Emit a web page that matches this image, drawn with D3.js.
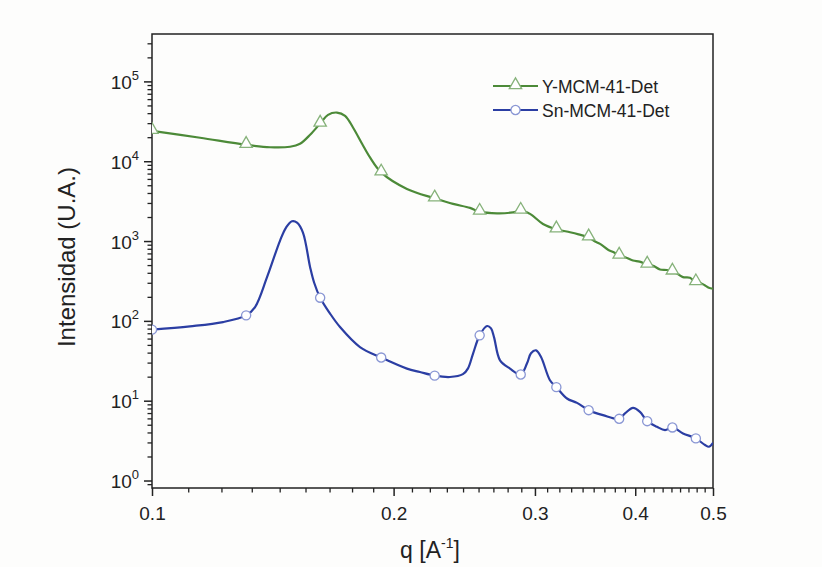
<!DOCTYPE html>
<html>
<head>
<meta charset="utf-8">
<script src="https://cdn.jsdelivr.net/npm/d3@7"></script>
<style>
  html, body { margin: 0; padding: 0; background: #fdfdfc; }
  svg { display: block; }
  text { font-family: "Liberation Sans", Arial, sans-serif; fill: #222; }
</style>
</head>
<body>
<svg id="chart" width="822" height="567"></svg>
<script>
// Scattering vector q [A^-1] and intensity for Y-MCM-41-Det
const qY = [0.100, 0.1148, 0.131, 0.1403, 0.1486, 0.1529, 0.1574, 0.162, 0.1657, 0.1700, 0.1740,
  0.1780, 0.1827, 0.1869, 0.193, 0.2078, 0.225, 0.2372, 0.2490, 0.256, 0.2691, 0.2817, 0.288,
  0.2958, 0.3070, 0.319, 0.3318, 0.3400, 0.350, 0.3560, 0.3616, 0.3700, 0.3760, 0.382, 0.3900,
  0.3975, 0.4050, 0.414, 0.4220, 0.4295, 0.4380, 0.445, 0.4520, 0.4588, 0.4680, 0.476, 0.4830,
  0.4887, 0.4940, 0.500];
const iY = [24400, 19950, 16300, 15170, 15400, 16790, 21760, 30100, 38680, 41300, 37580,
  26850, 16790, 11320, 7350, 4560, 3480, 2960, 2640, 2370, 2260, 2320, 2440,
  2220, 1660, 1425, 1307, 1230, 1132, 1010, 935, 790, 735, 668, 628,
  579, 560, 516, 492, 447, 440, 422, 392, 358, 352, 310, 300,
  282, 264, 256];

// Intensity for Sn-MCM-41-Det
const qSn = [0.100, 0.1115, 0.1226, 0.131, 0.1344, 0.1391, 0.1444, 0.1469, 0.1494, 0.1516, 0.1542,
  0.1574, 0.1592, 0.162, 0.1666, 0.1715, 0.1816, 0.193, 0.2078, 0.2157, 0.225, 0.2351, 0.2440,
  0.2476, 0.2512, 0.256, 0.2615, 0.2645, 0.2668, 0.2714, 0.2793, 0.288, 0.2932, 0.2966, 0.3009,
  0.3053, 0.3132, 0.319, 0.3289, 0.3385, 0.350, 0.3647, 0.382, 0.3884, 0.3975, 0.4055, 0.414,
  0.4258, 0.4357, 0.445, 0.4588, 0.476, 0.4887, 0.4943, 0.500];
const iSn = [78.8, 86.6, 98.0, 118.9, 151, 358, 1029, 1496, 1794, 1728, 1296,
  477, 307, 198, 126, 84.9, 47.7, 35.2, 25.6, 23.2, 20.9, 20.1, 21.8,
  25.8, 39.5, 66.8, 87.4, 81.7, 63.1, 32.5, 25.6, 21.6, 29.6, 39.8, 43.4,
  35.8, 18.3, 15.0, 10.8, 9.52, 7.72, 6.68, 6.01, 7.02, 8.25, 7.35, 5.62,
  4.77, 4.34, 4.69, 3.95, 3.42, 2.82, 2.69, 3.01];

// Symbols are drawn on every n-th acquired point
const markerQ = [0.100, 0.131, 0.162, 0.193, 0.225, 0.256, 0.288, 0.319, 0.350, 0.382, 0.414, 0.445, 0.476];

const seriesNames = ["Y-MCM-41-Det", "Sn-MCM-41-Det"];
const xTickLabels = ["0.1", "0.2", "0.3", "0.4", "0.5"];
const yDecades = [0, 1, 2, 3, 4, 5];

const svg = d3.select("#chart");
const mL = 152, mR = 713, mT = 34, mB = 488;

const x = d3.scaleLog().domain([0.1, 0.5]).range([mL, mR]);
const y = d3.scaleLog().domain([Math.pow(10, -0.0875), Math.pow(10, 5.6)]).range([mB, mT]);

const colors = { line: ["#4c8a38", "#2b3ea3"], mark: ["#86b27a", "#8a97d4"] };

// plot clip
svg.append("defs").append("clipPath").attr("id", "plotclip")
  .append("rect").attr("x", mL).attr("y", mT).attr("width", mR - mL).attr("height", mB - mT);

// frame
svg.append("rect").attr("x", mL).attr("y", mT).attr("width", mR - mL).attr("height", mB - mT)
  .attr("fill", "none").attr("stroke", "#222").attr("stroke-width", 1.5);

// x axis: major at 0.1 steps, 8 minors between
const xMajor = xTickLabels.map(Number);
const xMinor = [];
for (let i = 0; i < xMajor.length - 1; i++) {
  for (let k = 1; k <= 8; k++) xMinor.push(xMajor[i] + (xMajor[i + 1] - xMajor[i]) * k / 9);
}
const gx = svg.append("g").attr("transform", `translate(0,${mB})`);
gx.call(d3.axisBottom(x).tickValues(xMajor).tickFormat((d, i) => xTickLabels[i]).tickSize(8).tickPadding(11))
  .call(g => g.select(".domain").remove());
gx.selectAll("text").style("font-size", "19px").attr("fill", "#222").style("font-family", "Liberation Sans, Arial, sans-serif");
gx.selectAll("line").attr("stroke", "#222").attr("stroke-width", 1.5);
gx.selectAll(".minor").data(xMinor).enter().append("line").attr("class", "minor")
  .attr("x1", d => x(d)).attr("x2", d => x(d)).attr("y1", 0).attr("y2", 4.5)
  .attr("stroke", "#222").attr("stroke-width", 1.3);

// y axis: decades with 2..9 minors
const yMinor = [];
for (let e = -1; e <= 5; e++) for (let m = 2; m <= 9; m++) {
  const v = m * Math.pow(10, e);
  if (v >= y.domain()[0] && v <= y.domain()[1]) yMinor.push(v);
}
const gy = svg.append("g").attr("transform", `translate(${mL},0)`);
gy.selectAll(".major").data(yDecades).enter().append("line").attr("class", "major")
  .attr("x1", -8).attr("x2", 0).attr("y1", d => y(Math.pow(10, d))).attr("y2", d => y(Math.pow(10, d)))
  .attr("stroke", "#222").attr("stroke-width", 1.5);
gy.selectAll(".minor").data(yMinor).enter().append("line").attr("class", "minor")
  .attr("x1", -4.5).attr("x2", 0).attr("y1", d => y(d)).attr("y2", d => y(d))
  .attr("stroke", "#222").attr("stroke-width", 1.3);
const yl = gy.selectAll(".lab").data(yDecades).enter().append("text").attr("class", "lab")
  .attr("x", -13).attr("y", d => y(Math.pow(10, d)) + 7).attr("text-anchor", "end")
  .style("font-size", "19px");
yl.append("tspan").text("10");
yl.append("tspan").attr("dy", -9).style("font-size", "13px").text(d => d);

// axis titles
svg.append("text").attr("transform", `translate(75,257) rotate(-90)`).attr("text-anchor", "middle")
  .style("font-size", "24px").text("Intensidad (U.A.)");
const xt = svg.append("text").attr("x", 430).attr("y", 558).attr("text-anchor", "middle").style("font-size", "23px");
xt.append("tspan").text("q [A");
xt.append("tspan").attr("dy", -10).style("font-size", "14px").text("-1");
xt.append("tspan").attr("dy", 10).text("]");

// curves
const line = d3.line().x(d => x(d[0])).y(d => y(d[1])).curve(d3.curveCatmullRom.alpha(0.5));
const data = [d3.zip(qY, iY), d3.zip(qSn, iSn)];
const plot = svg.append("g").attr("clip-path", "url(#plotclip)");

data.forEach((pts, s) => {
  plot.append("path").datum(pts).attr("d", line).attr("fill", "none")
    .attr("stroke", colors.line[s]).attr("stroke-width", 2.2).attr("stroke-linejoin", "round");
});

const triangle = d3.symbol().type(d3.symbolTriangle).size(66);
const circle = d3.symbol().type(d3.symbolCircle).size(66);

data.forEach((pts, s) => {
  const marks = pts.filter(p => markerQ.some(m => Math.abs(m - p[0]) < 1e-6));
  plot.selectAll(".m" + s).data(marks).enter().append("path").attr("class", "m" + s)
    .attr("transform", d => `translate(${x(d[0])},${y(d[1]) + (s === 0 ? -1 : 0)})`)
    .attr("d", s === 0 ? triangle : circle)
    .attr("fill", "#ffffff").attr("stroke", colors.mark[s]).attr("stroke-width", 1.3);
});

// legend
const leg = svg.append("g").attr("transform", "translate(493,86)");
seriesNames.forEach((name, s) => {
  const g = leg.append("g").attr("transform", `translate(0,${s * 24})`);
  g.append("line").attr("x1", 0).attr("x2", 45).attr("y1", 0).attr("y2", 0)
    .attr("stroke", colors.line[s]).attr("stroke-width", 2.2);
  g.append("path").attr("transform", `translate(22.5,${s === 0 ? -1 : 0})`).attr("d", s === 0 ? triangle : circle)
    .attr("fill", "#ffffff").attr("stroke", colors.mark[s]).attr("stroke-width", 1.3);
  g.append("text").attr("x", 49).attr("y", 6.5).style("font-size", "17.5px").text(name);
});
</script>
</body>
</html>
